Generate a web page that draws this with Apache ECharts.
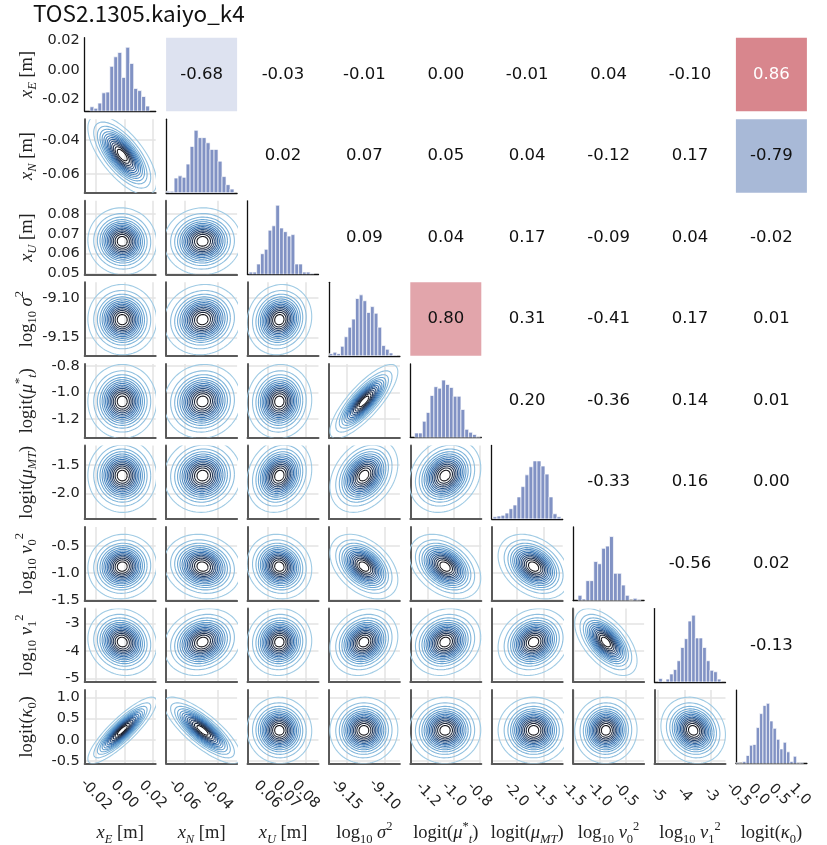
<!DOCTYPE html>
<html>
<head>
<meta charset="utf-8">
<script src="https://cdn.jsdelivr.net/npm/echarts@6/dist/echarts.min.js"></script>
<style>
  html, body { margin: 0; padding: 0; background: #ffffff; }
  #chart { width: 827px; height: 845px; }
</style>
</head>
<body>
<div id="chart"></div>
<script>
// ---- Data -------------------------------------------------------------
const chartTitle = 'TOS2.1305.kaiyo_k4';

// Parameter axis names (rich text: italic symbols, sub/superscripts)
const paramNames = [
  '{i|x}{bi|E}{r| [m]}',
  '{i|x}{bi|N}{r| [m]}',
  '{i|x}{bi|U}{r| [m]}',
  '{r|log}{br|10}{r| }{i|σ}{p|2}',
  '{r|logit(}{i|μ}{pi|*}{bi|t}{r|)}',
  '{r|logit(}{i|μ}{bi|MT}{r|)}',
  '{r|log}{br|10}{r| }{i|ν}{br|0}{p|2}',
  '{r|log}{br|10}{r| }{i|ν}{br|1}{p|2}',
  '{r|logit(}{i|κ}{br|0}{r|)}'
];

// Plotted range of each parameter
const rangeMin = [-0.028, -0.071, 0.0495, -9.173, -1.34, -2.45, -1.507, -5.135, -0.56];
const rangeMax = [0.022, -0.028, 0.0867, -9.080, -0.786, -1.15, -0.146, -2.46, 1.17];

// Tick values (y axes of the first column, x axes of the bottom row)
const yTicks = [
  [-0.02, 0.00, 0.02], [-0.06, -0.04], [0.05, 0.06, 0.07, 0.08], [-9.15, -9.10],
  [-1.2, -1.0, -0.8], [-2.0, -1.5], [-1.5, -1.0, -0.5], [-5, -4, -3], [-0.5, 0.0, 0.5, 1.0]
];
const xTicks = [
  [-0.02, 0.00, 0.02], [-0.06, -0.04], [0.06, 0.07, 0.08], [-9.15, -9.10],
  [-1.2, -1.0, -0.8], [-2.0, -1.5], [-1.5, -1.0, -0.5], [-5, -4, -3], [-0.5, 0.0, 0.5, 1.0]
];
const tickDecimals = [2, 2, 2, 2, 1, 1, 1, 0, 1];

// Marginal histograms: first bin edge, bin width, bin heights (percent of panel)
const histStart = [-0.0243, -0.0710, 0.0503, -9.1725, -1.306, -2.426, -1.413, -4.977, -0.558];
const histWidth = [0.0028, 0.00242, 0.0020, 0.0049, 0.0301, 0.0732, 0.0755, 0.138, 0.0821];
const histXE   = [6, 4, 11, 25, 26, 61, 74, 80, 46, 87, 65, 31, 28, 20, 7];
const histXN   = [2, 2, 20, 23, 21, 39, 63, 85, 75, 75, 68, 59, 59, 43, 22, 11, 5];
const histXU   = [3, 3, 14, 28, 34, 60, 66, 94, 63, 58, 52, 54, 14, 14, 3, 3, 1];
const histSig  = [3, 5, 3, 13, 26, 39, 50, 78, 83, 75, 59, 67, 58, 39, 14, 9, 4, 1];
const histMuT  = [6, 6, 22, 34, 57, 69, 67, 78, 72, 68, 56, 56, 38, 11, 7, 4, 1];
const histMuMT = [3, 4, 5, 8, 14, 19, 30, 44, 60, 71, 79, 79, 72, 61, 30, 7, 3];
const histNu0  = [7, 2, 27, 27, 53, 50, 71, 74, 87, 37, 37, 21, 7, 0, 3, 1];
const histNu1  = [5, 0, 4, 11, 17, 29, 47, 59, 83, 91, 60, 60, 47, 29, 16, 14, 4];
const histKap  = [1, 0, 3, 11, 25, 26, 49, 68, 79, 82, 58, 48, 33, 20, 29, 16, 3, 10, 1, 1];
const histCounts = [histXE, histXN, histXU, histSig, histMuT, histMuMT, histNu0, histNu1, histKap];

// Pearson correlations, upper triangle, row by row
const corrRows = [
  [-0.68, -0.03, -0.01, 0.00, -0.01, 0.04, -0.10, 0.86],
  [0.02, 0.07, 0.05, 0.04, -0.12, 0.17, -0.79],
  [0.09, 0.04, 0.17, -0.09, 0.04, -0.02],
  [0.80, 0.31, -0.41, 0.17, 0.01],
  [0.20, -0.36, 0.14, 0.01],
  [-0.33, 0.16, 0.00],
  [-0.56, 0.02],
  [-0.13]
];

// Density contour levels: probability mass outside each contour
const contourLevels = [0.03, 0.09, 0.16, 0.23, 0.30, 0.37, 0.44, 0.51, 0.58, 0.65, 0.72, 0.79, 0.86, 0.93];

// ---- Layout & style ---------------------------------------------------
const N = 9;
const gridLeft0 = 84.7, colStep = 81.4, gridTop0 = 37.7, rowStep = 81.55;
const cellW = 71, cellH = 73.5;
const histTop = 100;
const kdeWiden = 1.14;
const tickFont = 'DejaVu Sans';
const nameFont = 'Liberation Serif';
const histColor = '#8192c4';

const nameRich = {
  r:  { fontFamily: nameFont, fontSize: 18.5, lineHeight: 26, color: '#222' },
  i:  { fontFamily: nameFont, fontSize: 18.5, lineHeight: 26, fontStyle: 'italic', color: '#222' },
  bi: { fontFamily: nameFont, fontSize: 12.5, lineHeight: 12, fontStyle: 'italic', verticalAlign: 'bottom', color: '#222' },
  br: { fontFamily: nameFont, fontSize: 12.5, lineHeight: 12, verticalAlign: 'bottom', color: '#222' },
  p:  { fontFamily: nameFont, fontSize: 12.5, lineHeight: 12, verticalAlign: 'top', color: '#222' },
  pi: { fontFamily: nameFont, fontSize: 12.5, lineHeight: 12, verticalAlign: 'top', color: '#222' }
};

const contourStops = [[0, [160, 203, 228]], [0.25, [105, 165, 212]], [0.55, [52, 112, 176]], [0.8, [36, 62, 102]], [1, [22, 22, 28]]];
const corrShadeStops = [
  [-1, [120, 140, 195]], [-0.79, [168, 185, 215]], [-0.68, [221, 226, 240]], [-0.6, [238, 241, 248]],
  [0.6, [245, 222, 225]], [0.80, [226, 165, 171]], [0.86, [216, 134, 141]], [1, [200, 95, 105]]
];
const shadeThreshold = 0.6;

function lerpStops(stops, t) {
  if (t <= stops[0][0]) return stops[0][1];
  for (let k = 1; k < stops.length; k++) {
    if (t <= stops[k][0]) {
      const a = stops[k - 1], b = stops[k];
      const f = (t - a[0]) / (b[0] - a[0]);
      return a[1].map((c, q) => Math.round(c + (b[1][q] - c) * f));
    }
  }
  return stops[stops.length - 1][1];
}
const rgb = c => 'rgb(' + c.join(',') + ')';

function histStats(v) {
  const c = histCounts[v];
  let n = 0, s = 0, s2 = 0;
  c.forEach((h, b) => {
    const x = histStart[v] + (b + 0.5) * histWidth[v];
    n += h; s += h * x; s2 += h * x * x;
  });
  const m = s / n;
  return { m, sd: Math.sqrt(s2 / n - m * m) * kdeWiden };
}
const stats = histCounts.map((_, v) => histStats(v));

function corr(a, b) {
  const lo = Math.min(a, b), hi = Math.max(a, b);
  return corrRows[lo][hi - lo - 1];
}

// ---- Option -----------------------------------------------------------
const grids = [], xAxes = [], yAxes = [], series = [];

const labelStyle = (ticks, dec) => ({
  show: true, customValues: ticks, color: '#222', fontFamily: tickFont, fontSize: 14.5,
  hideOverlap: false, formatter: v => Number(v).toFixed(dec)
});

// Bottom-row tick labels: one label-only axis per tick so rotated labels never get thinned out
function addXTickLabels(g, j) {
  xTicks[j].forEach(t => {
    xAxes.push({
      gridIndex: g, type: 'value', min: rangeMin[j], max: rangeMax[j], position: 'bottom',
      axisLine: { show: false }, splitLine: { show: false },
      axisTick: { show: false, customValues: [t] },
      axisLabel: Object.assign(labelStyle([t], tickDecimals[j]),
        { rotate: -45, align: 'center', verticalAlign: 'middle', margin: 31 })
    });
  });
}

for (let i = 0; i < N; i++) {
  for (let j = 0; j < N; j++) {
    const g = grids.length;
    grids.push({
      left: gridLeft0 + colStep * j, top: gridTop0 + rowStep * i,
      width: cellW, height: cellH, containLabel: false, outerBoundsMode: 'none'
    });

    if (i < j) {
      // correlation cell
      xAxes.push({ gridIndex: g, type: 'value', min: 0, max: 1, show: false });
      yAxes.push({ gridIndex: g, type: 'value', min: 0, max: 1, show: false });
      const r = corrRows[i][j - i - 1];
      series.push({
        type: 'custom', coordinateSystem: 'cartesian2d', xAxisIndex: xAxes.length - 1, yAxisIndex: yAxes.length - 1,
        silent: true, animation: false, data: [[r]],
        renderItem: (params, api) => {
          const val = api.value(0);
          const p0 = api.coord([0, 1]), p1 = api.coord([1, 0]), pc = api.coord([0.5, 0.5]);
          const children = [];
          if (Math.abs(val) >= shadeThreshold) {
            children.push({ type: 'rect', shape: { x: p0[0], y: p0[1], width: p1[0] - p0[0], height: p1[1] - p0[1] },
              style: { fill: rgb(lerpStops(corrShadeStops, val)) } });
          }
          children.push({ type: 'text', x: pc[0], y: pc[1],
            style: { text: val.toFixed(2), align: 'center', verticalAlign: 'middle',
              fontFamily: tickFont, fontSize: 16.5, fill: Math.abs(val) > 0.85 ? '#ffffff' : '#111111' } });
          return { type: 'group', children };
        }
      });
      continue;
    }

    const bottomRow = i === N - 1;
    const firstCol = j === 0;

    if (i === j) {
      // marginal histogram
      xAxes.push({
        gridIndex: g, type: 'value', min: rangeMin[j], max: rangeMax[j],
        axisLine: { show: true, onZero: false, lineStyle: { color: '#111', width: 1.3 } },
        axisTick: { show: false, customValues: xTicks[j] },
        splitLine: { show: false }, axisLabel: { show: false },
        name: bottomRow ? paramNames[j] : '', nameLocation: 'middle', nameGap: 57, nameMoveOverlap: false,
        nameTextStyle: { rich: nameRich }
      });
      const xIdx = xAxes.length - 1;
      yAxes.push({
        gridIndex: g, type: 'value', min: 0, max: histTop,
        axisLine: { show: true, onZero: false, lineStyle: { color: '#111', width: 1.3 } },
        axisTick: { show: false }, splitLine: { show: false }, axisLabel: { show: false }
      });
      const yIdx = yAxes.length - 1;
      if (bottomRow) addXTickLabels(g, j);
      if (firstCol) {
        // parameter scale shown beside the first histogram
        yAxes.push({
          gridIndex: g, type: 'value', min: rangeMin[i], max: rangeMax[i], position: 'left',
          axisLine: { show: false }, axisTick: { show: false, customValues: yTicks[i] }, splitLine: { show: false },
          axisLabel: Object.assign(labelStyle(yTicks[i], tickDecimals[i]), { margin: 5 }),
          name: paramNames[i], nameLocation: 'middle', nameGap: 45, nameRotate: 90, nameMoveOverlap: false,
          nameTextStyle: { rich: nameRich }
        });
      }
      const v = j;
      const bins = histCounts[v].map((h, b) => [histStart[v] + b * histWidth[v], histStart[v] + (b + 1) * histWidth[v], h]);
      series.push({
        type: 'custom', coordinateSystem: 'cartesian2d', xAxisIndex: xIdx, yAxisIndex: yIdx,
        silent: true, animation: false, clip: true, data: bins,
        encode: { x: [0, 1], y: 2 },
        renderItem: (params, api) => {
          const a = api.coord([api.value(0), 0]);
          const b = api.coord([api.value(1), api.value(2)]);
          return { type: 'rect', shape: { x: a[0], y: b[1], width: b[0] - a[0], height: a[1] - b[1] },
            style: { fill: histColor, stroke: '#ffffff', lineWidth: 0.7 } };
        }
      });
      continue;
    }

    // 2-D density panel (x = parameter j, y = parameter i)
    const gridLine = { show: true, lineStyle: { color: '#e3e3e3', width: 1.5 } };
    xAxes.push({
      gridIndex: g, type: 'value', min: rangeMin[j], max: rangeMax[j],
      axisLine: { show: true, onZero: false, lineStyle: { color: '#5a5a5a', width: 2 } },
      axisTick: { show: false, customValues: xTicks[j] },
      splitLine: gridLine,
      axisLabel: { show: false, customValues: xTicks[j] },
      name: bottomRow ? paramNames[j] : '', nameLocation: 'middle', nameGap: 57, nameMoveOverlap: false,
      nameTextStyle: { rich: nameRich }
    });
    const xIdx = xAxes.length - 1;
    yAxes.push({
      gridIndex: g, type: 'value', min: rangeMin[i], max: rangeMax[i],
      axisLine: { show: true, onZero: false, lineStyle: { color: '#5a5a5a', width: 2 } },
      axisTick: { show: false, customValues: yTicks[i] },
      splitLine: gridLine,
      axisLabel: firstCol ? Object.assign(labelStyle(yTicks[i], tickDecimals[i]), { margin: 5 }) : { show: false, customValues: yTicks[i] },
      name: firstCol ? paramNames[i] : '', nameLocation: 'middle', nameGap: 45, nameRotate: 90, nameMoveOverlap: false,
      nameTextStyle: { rich: nameRich }
    });
    const yIdx = yAxes.length - 1;
    if (bottomRow) addXTickLabels(g, j);
    const sx = stats[j], sy = stats[i], rho = corr(i, j);
    series.push({
      type: 'custom', coordinateSystem: 'cartesian2d', xAxisIndex: xIdx, yAxisIndex: yIdx,
      silent: true, animation: false, clip: true,
      data: contourLevels.map((q, k) => [k]),
      renderItem: (params, api) => {
        const k = api.value(0);
        const rad = Math.sqrt(-2 * Math.log(contourLevels[k]));
        const c = Math.sqrt(1 - rho * rho);
        const pts = [];
        for (let s = 0; s <= 90; s++) {
          const th = s / 90 * 2 * Math.PI;
          const u = rad * Math.cos(th), w = rad * Math.sin(th);
          pts.push(api.coord([sx.m + sx.sd * u, sy.m + sy.sd * (rho * u + c * w)]));
        }
        const t = k / (contourLevels.length - 1);
        return { type: 'polyline', shape: { points: pts },
          style: { stroke: rgb(lerpStops(contourStops, t)), lineWidth: 1.1, fill: null } };
      }
    });
  }
}

const option = {
  animation: false,
  backgroundColor: '#ffffff',
  title: {
    text: chartTitle, left: 33, top: 2, padding: 0,
    textStyle: { fontFamily: 'Noto Sans CJK JP', fontSize: 22.5, fontWeight: 'normal', color: '#111' }
  },
  grid: grids, xAxis: xAxes, yAxis: yAxes, series
};

const chart = echarts.init(document.getElementById('chart'), null, { renderer: 'canvas' });
chart.setOption(option);
</script>
</body>
</html>
